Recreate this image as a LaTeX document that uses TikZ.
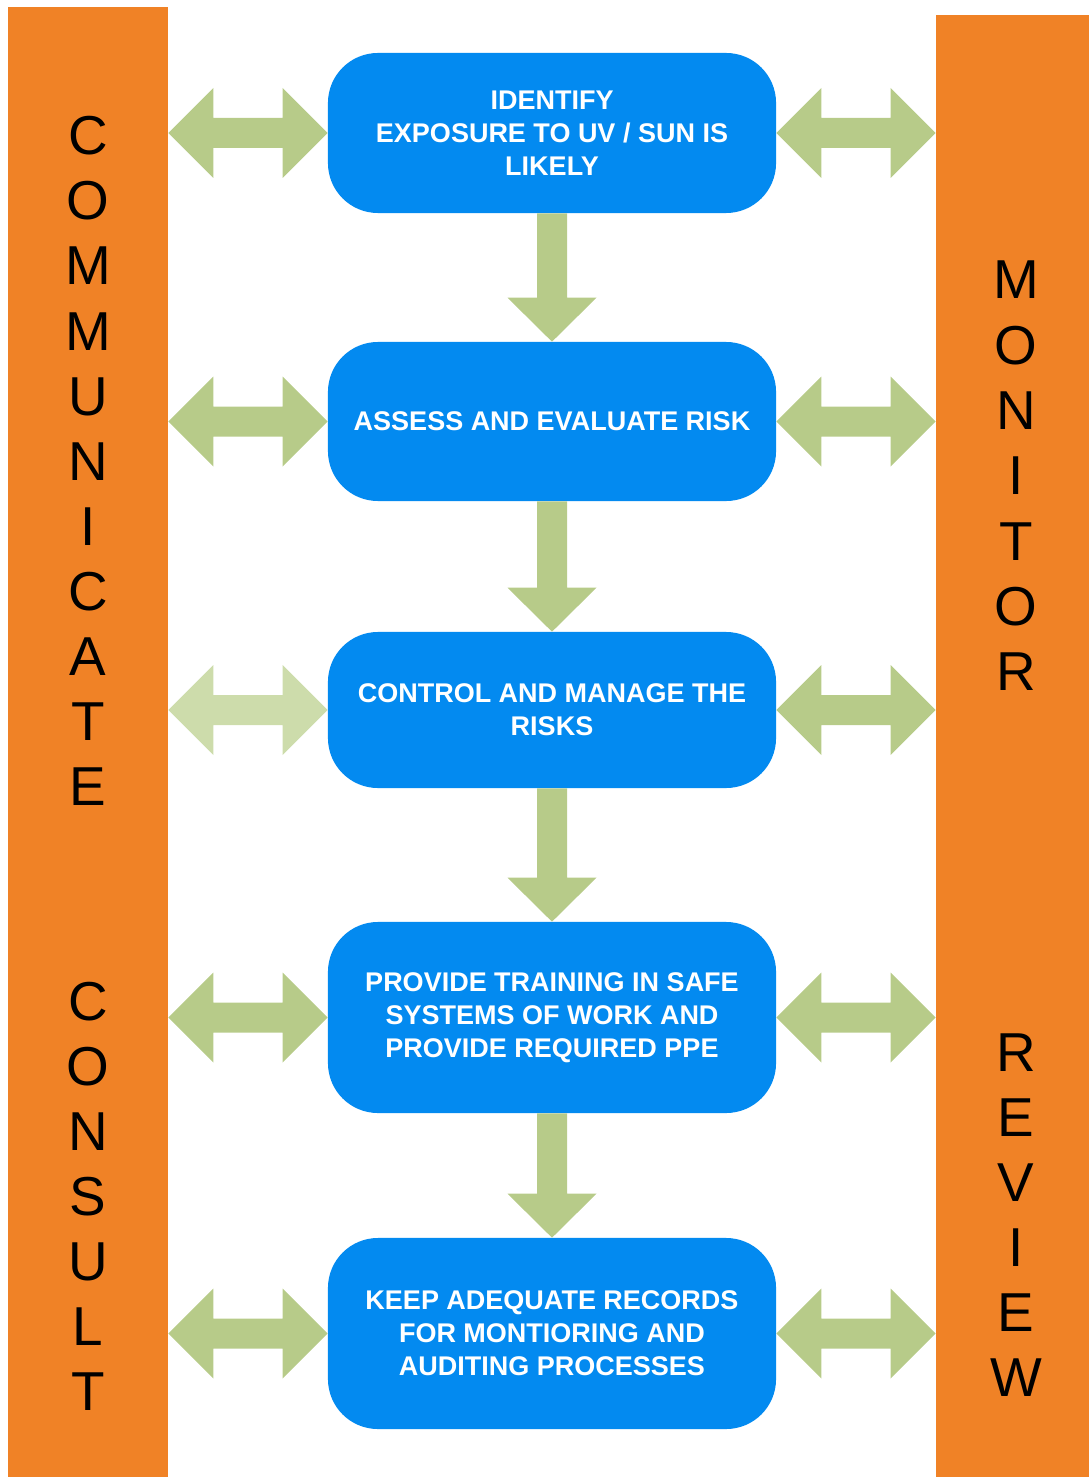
\documentclass[tikz,border=0pt]{standalone}
\usepackage{fontspec}
\setmainfont{Liberation Sans}
\usetikzlibrary{calc}

\definecolor{stepblue}{RGB}{3,138,240}
\definecolor{baronange}{RGB}{240,130,38}
\definecolor{flowgreen}{RGB}{183,203,137}
\definecolor{palegreen}{RGB}{205,220,171}

\tikzset{
  stepbox/.style={fill=stepblue, rounded corners=1.25cm, minimum width=11.2cm,
    inner sep=0pt, text=white, align=center,
    font={\fontsize{19.2}{23.4}\selectfont\bfseries}},
  sidebar/.style={fill=baronange, inner sep=0pt},
  barletter/.style={anchor=base, inner sep=0pt, font={\fontsize{39}{47}\selectfont}}
}

% block arrow pointing down, from one box to the next
\newcommand{\downblock}[2]{%
  \fill[flowgreen] ($(#1.south)+(-15,0)$) -- ($(#2.north)+(-15,-44)$)
    -- ($(#2.north)+(-44.5,-44)$) -- (#2.north) -- ($(#2.north)+(44.5,-44)$)
    -- ($(#2.north)+(15,-44)$) -- ($(#1.south)+(15,0)$) -- cycle;}

% double headed block arrow, left end #2, right end #3
\newcommand{\sideblock}[3][flowgreen]{%
  \fill[#1] (#2) -- ($(#2)+(45,-45)$) -- ($(#2)+(45,-15)$) -- ($(#3)+(-45,-15)$)
    -- ($(#3)+(-45,-45)$) -- (#3) -- ($(#3)+(-45,45)$) -- ($(#3)+(-45,15)$)
    -- ($(#2)+(45,15)$) -- ($(#2)+(45,45)$) -- cycle;}

\begin{document}
\begin{tikzpicture}[x=0.025cm, y=-0.025cm]
  \useasboundingbox (0,0) rectangle (1089,1477);

  % side bars
  \node[sidebar, minimum width=4cm, minimum height=36.75cm] (lbar) at (88,742) {};
  \node[sidebar, minimum width=3.825cm, minimum height=36.55cm] (rbar) at (1012.5,746) {};

  \foreach \ch [count=\i from 0] in {C,O,M,M,U,N,I,C,A,T,E}
    \node[barletter] (comm\i) at (88,155+65*\i) {\ch};
  \foreach \ch [count=\i from 0] in {C,O,N,S,U,L,T}
    \node[barletter] (cons\i) at (88,1020.5+65*\i) {\ch};
  \foreach \ch [count=\i from 0] in {M,O,N,I,T,O,R}
    \node[barletter] (moni\i) at (1016,299+65.3*\i) {\ch};
  \foreach \ch [count=\i from 0] in {R,E,V,I,E,W}
    \node[barletter] (revi\i) at (1016,1071+65*\i) {\ch};

  % steps
  \node[stepbox, minimum height=4cm] (identify) at (552,133)
    {IDENTIFY\\EXPOSURE TO UV / SUN IS\\LIKELY};
  \node[stepbox, minimum height=3.975cm] (assess) at (552,421.5)
    {ASSESS AND EVALUATE RISK};
  \node[stepbox, minimum height=3.9cm] (control) at (552,710)
    {CONTROL AND MANAGE THE\\RISKS};
  \node[stepbox, minimum height=4.775cm] (training) at (552,1017.5)
    {PROVIDE TRAINING IN SAFE\\SYSTEMS OF WORK AND\\PROVIDE REQUIRED PPE};
  \node[stepbox, minimum height=4.775cm] (records) at (552,1333.5)
    {KEEP ADEQUATE RECORDS\\FOR MONTIORING AND\\AUDITING PROCESSES};

  \downblock{identify}{assess}
  \downblock{assess}{control}
  \downblock{control}{training}
  \downblock{training}{records}

  \foreach \s in {identify,assess,training,records}
    \sideblock{lbar.east |- \s.west}{\s.west};
  \sideblock[palegreen]{lbar.east |- control.west}{control.west}
  \foreach \s in {identify,assess,control,training,records}
    \sideblock{\s.east}{rbar.west |- \s.east};
\end{tikzpicture}
\end{document}
